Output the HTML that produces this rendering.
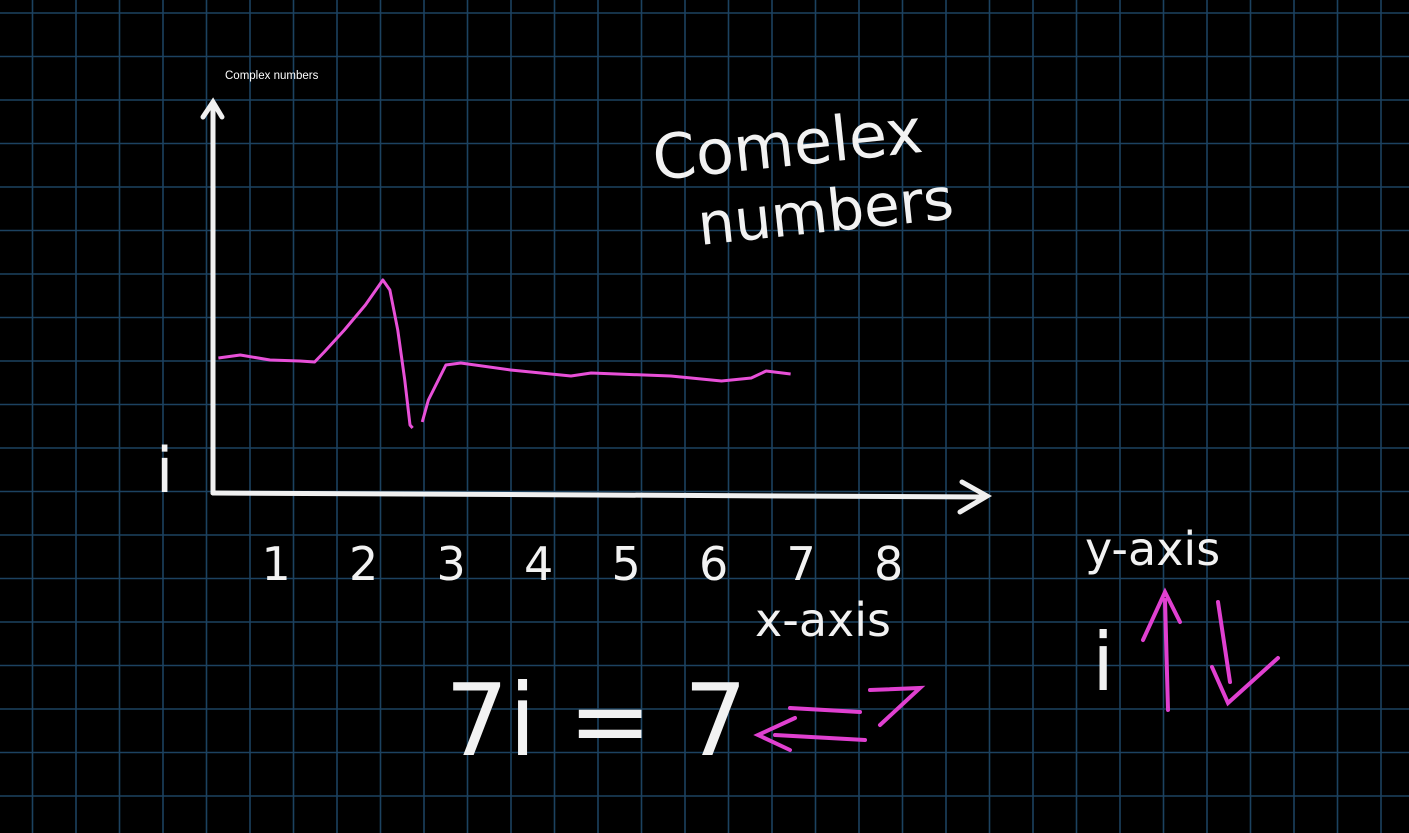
<!DOCTYPE html>
<html><head><meta charset="utf-8"><style>
html,body{margin:0;padding:0;background:#000;}
svg{display:block}
.hw{font-family:"DejaVu Sans","Liberation Sans",sans-serif;fill:#f2f2f2;font-weight:normal}
</style></head><body>
<svg id="c" width="1409" height="833" viewBox="0 0 1409 833">
<g id="grid"></g>
<text x="225" y="79" font-family="Liberation Sans, sans-serif" font-size="11.5" fill="#fff">Complex numbers</text>
<g stroke="#f0f0f0" stroke-width="5" fill="none" stroke-linecap="round">
<path d="M213 493 L213 104"/><path d="M203 117 L213 102 L222 117"/></g>
<g stroke="#f0f0f0" stroke-width="5" fill="none" stroke-linecap="round">
<path d="M213 493 L985 497"/><path d="M962 482 L987 496 L960 512"/></g>
<g id="ticks"></g>
<g id="series"></g>
<text class="hw" x="156" y="492" font-size="62">i</text>
<text class="hw" x="655" y="180" font-size="62" transform="rotate(-6 655 180)">Comelex</text>
<text class="hw" x="700" y="245" font-size="58" transform="rotate(-6 700 245)">numbers</text>
<text class="hw" x="755" y="636" font-size="46">x-axis</text>
<text class="hw" x="1085" y="565" font-size="46">y-axis</text>
<text class="hw" x="1092" y="690" font-size="80">i</text>
<text class="hw" x="445" y="755" font-size="100">7i = 7</text>
<g stroke="#e040d0" stroke-width="4" fill="none" stroke-linecap="round">
<path d="M1168 710 L1165 600 M1143 640 L1165 592 L1180 622"/>
<path d="M1218 602 L1230 682 M1212 667 L1228 703 L1278 658"/>
<path d="M790 708 L860 712 M870 690 L920 688 L880 725"/>
<path d="M865 740 L775 735 M795 718 L758 735 L790 750"/>
</g>
</svg>
<script>
const xValues=[0.37,0.62,0.96,1.3,1.47,1.58,1.81,2.05,2.25,2.33,2.42,2.5,2.56,2.59];
const yValues=[1.35,1.38,1.33,1.32,1.31,1.41,1.63,1.88,2.13,2.03,1.63,1.13,0.68,0.65];
const xValues2=[2.7,2.77,2.97,3.14,3.71,4.4,4.63,5.54,6.12,6.46,6.63,6.91];
const yValues2=[0.71,0.93,1.28,1.30,1.23,1.17,1.20,1.17,1.12,1.15,1.22,1.19];
const tickLabels=["1","2","3","4","5","6","7","8"];
const NS="http://www.w3.org/2000/svg";
const sx=v=>186+v*87.5, sy=v=>493-v*100;
const g=document.getElementById('grid');
for(let x=32.5;x<1409;x+=43.5){const l=document.createElementNS(NS,'line');l.setAttribute('x1',x);l.setAttribute('x2',x);l.setAttribute('y1',0);l.setAttribute('y2',833);l.setAttribute('stroke','#1c4260');l.setAttribute('stroke-width','1.6');

g.appendChild(l);}
for(let y=13;y<833;y+=43.5){const l=document.createElementNS(NS,'line');l.setAttribute('y1',y);l.setAttribute('y2',y);l.setAttribute('x1',0);l.setAttribute('x2',1409);l.setAttribute('stroke','#1c4260');l.setAttribute('stroke-width','1.6');

g.appendChild(l);}
const s=document.getElementById('series');
[[xValues,yValues],[xValues2,yValues2]].forEach(([xs,ys])=>{
const p=document.createElementNS(NS,'path');
p.setAttribute('d',xs.map((v,i)=>(i?'L':'M')+sx(v)+' '+sy(ys[i])).join(' '));
p.setAttribute('stroke','#e850d8');p.setAttribute('stroke-width','3');p.setAttribute('fill','none');p.setAttribute('stroke-linejoin','round');

s.appendChild(p);});
const t=document.getElementById('ticks');
tickLabels.forEach((lab,i)=>{const e=document.createElementNS(NS,'text');e.setAttribute('x',sx(i+1)-12);e.setAttribute('y',580);e.setAttribute('class','hw');e.setAttribute('font-size','46');e.textContent=lab;

t.appendChild(e);});
</script>
</body></html>
